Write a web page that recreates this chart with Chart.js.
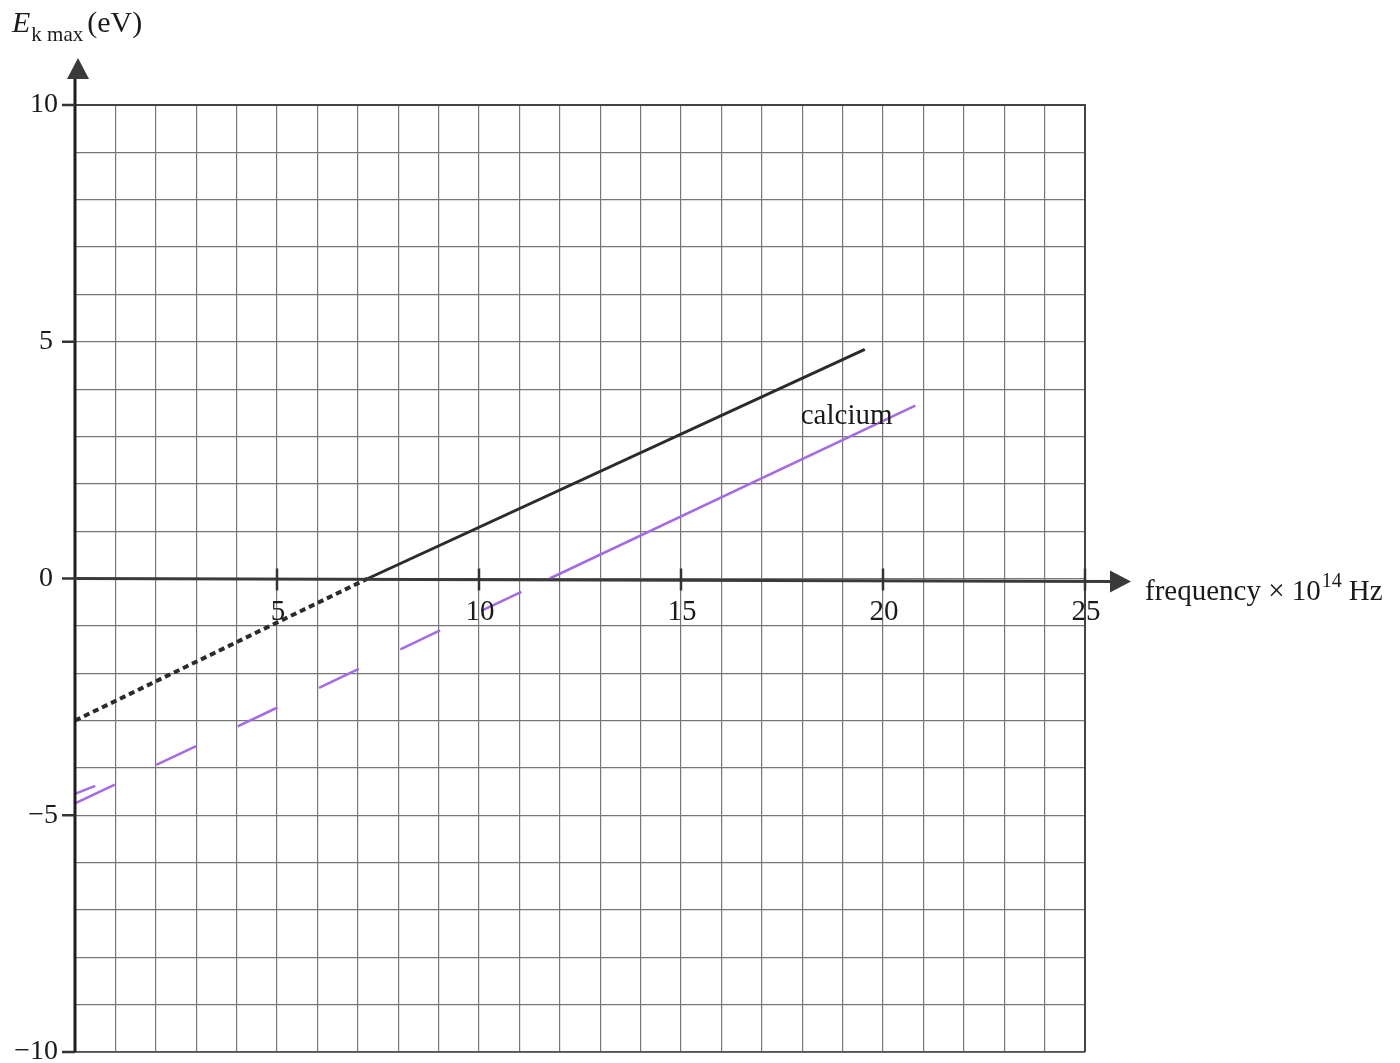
<!DOCTYPE html>
<html>
<head>
<meta charset="utf-8">
<script src="https://cdn.jsdelivr.net/npm/chart.js@4/dist/chart.umd.min.js"></script>
<style>
  html, body { margin: 0; padding: 0; background: #ffffff; }
  #wrap { width: 1400px; height: 1063px; }
</style>
</head>
<body>
<div id="wrap"><canvas id="c" width="1400" height="1063"></canvas></div>
<script>
// Axis ranges and labelled ticks
const xRange = [0, 25];
const yRange = [-10, 10];
const xTickValues = [5, 10, 15, 20, 25];
const xTickLabels = ['5', '10', '15', '20', '25'];
const yTickValues = [10, 5, 0, -5, -10];
const yTickLabels = ['10', '5', '0', '\u22125', '\u221210'];

// First metal: measured part (solid) and extrapolation back to the intercept (dotted)
const metalASolid = [{ x: 7.25, y: 0 }, { x: 19.55, y: 4.84 }];
const metalAExtrap = [{ x: 0, y: -3.0 }, { x: 7.25, y: 0 }];

// Calcium: measured part (solid) and extrapolation (dashed), plus a stray pen stroke near the origin
const calciumSolid = [{ x: 11.75, y: 0 }, { x: 20.8, y: 3.65 }];
const calciumExtrap = [{ x: 0, y: -4.75 }, { x: 11.75, y: 0 }];
const calciumStroke = [{ x: 0, y: -4.55 }, { x: 0.5, y: -4.38 }];

const calciumLabel = { text: 'calcium', x: 19.1, y: 3.42 };

const INK = '#2b2b2b';
const PURPLE = '#a56be3';
const SERIF = '"Liberation Serif", "DejaVu Serif", serif';

const annotate = {
  id: 'annotate',
  afterDraw(chart) {
    const { ctx, chartArea: a, scales: { x, y } } = chart;
    const x0 = x.getPixelForValue(0);
    const y0 = y.getPixelForValue(0);
    ctx.save();

    // frame: top and right borders
    ctx.strokeStyle = '#444';
    ctx.lineWidth = 2;
    ctx.beginPath();
    ctx.moveTo(a.left, a.top);
    ctx.lineTo(a.right, a.top);
    ctx.lineTo(a.right, a.bottom);
    ctx.stroke();
    ctx.lineWidth = 1.5;
    ctx.beginPath();
    ctx.moveTo(a.left, a.bottom);
    ctx.lineTo(a.right, a.bottom);
    ctx.stroke();

    // vertical axis with arrow
    ctx.strokeStyle = '#1e1e1e';
    ctx.fillStyle = '#3a3a3a';
    ctx.lineWidth = 3;
    ctx.beginPath();
    ctx.moveTo(x0, a.bottom);
    ctx.lineTo(x0, 76);
    ctx.stroke();
    ctx.beginPath();
    ctx.moveTo(x0 + 3, 58);
    ctx.lineTo(x0 - 8, 79);
    ctx.lineTo(x0 + 14, 79);
    ctx.closePath();
    ctx.fill();

    // horizontal axis at zero with arrow
    ctx.strokeStyle = '#3a3a3a';
    ctx.lineWidth = 3;
    ctx.beginPath();
    ctx.moveTo(x0, y0);
    ctx.lineTo(1112, y0 + 3);
    ctx.stroke();
    ctx.beginPath();
    ctx.moveTo(1110, y0 - 8);
    ctx.lineTo(1131, y0 + 3);
    ctx.lineTo(1110, y0 + 14);
    ctx.closePath();
    ctx.fill();

    // y ticks and labels
    ctx.font = '28px ' + SERIF;
    ctx.fillStyle = '#1a1a1a';
    ctx.textAlign = 'right';
    ctx.textBaseline = 'middle';
    ctx.strokeStyle = '#333';
    ctx.lineWidth = 2.5;
    yTickValues.forEach((v, i) => {
      const py = y.getPixelForValue(v);
      ctx.beginPath();
      ctx.moveTo(x0 - 13, py);
      ctx.lineTo(x0, py);
      ctx.stroke();
      ctx.fillText(yTickLabels[i], v === 0 || v === 5 ? x0 - 22 : x0 - 17, py);
    });

    // x ticks and labels
    ctx.font = '29px ' + SERIF;
    ctx.textAlign = 'center';
    ctx.textBaseline = 'top';
    xTickValues.forEach((v, i) => {
      const px = x.getPixelForValue(v);
      ctx.beginPath();
      ctx.moveTo(px, y0 - 10);
      ctx.lineTo(px, y0 + 12);
      ctx.stroke();
      ctx.fillText(xTickLabels[i], px + 1, y0 + 19);
    });

    // y-axis title: E_k max (eV)
    ctx.textAlign = 'left';
    ctx.textBaseline = 'alphabetic';
    ctx.font = 'italic 30px ' + SERIF;
    ctx.fillText('E', 12, 32);
    let w = ctx.measureText('E').width;
    ctx.font = '21px ' + SERIF;
    ctx.fillText('k max', 12 + w + 1, 41);
    const w2 = ctx.measureText('k max').width;
    ctx.font = '30px ' + SERIF;
    ctx.fillText('(eV)', 12 + w + w2 + 5, 32);

    // x-axis title: frequency × 10^14 Hz
    ctx.font = '29px ' + SERIF;
    const t1 = 'frequency \u00d7 10';
    ctx.fillText(t1, 1145, 600);
    let tx = 1145 + ctx.measureText(t1).width;
    ctx.font = '20px ' + SERIF;
    ctx.fillText('14', tx + 1, 587);
    tx += ctx.measureText('14').width + 8;
    ctx.font = '29px ' + SERIF;
    ctx.fillText('Hz', tx, 600);

    // series label
    ctx.font = '29px ' + SERIF;
    ctx.textAlign = 'center';
    ctx.textBaseline = 'middle';
    ctx.fillText(calciumLabel.text, x.getPixelForValue(calciumLabel.x), y.getPixelForValue(calciumLabel.y));

    ctx.restore();
  }
};

const line = (data, color, width, dash) => ({
  data,
  showLine: true,
  borderColor: color,
  borderWidth: width,
  borderDash: dash || [],
  pointRadius: 0,
  fill: false,
  borderCapStyle: 'butt'
});

new Chart(document.getElementById('c'), {
  type: 'scatter',
  data: {
    datasets: [
      line(metalASolid, INK, 3),
      line(metalAExtrap, INK, 4, [6, 4]),
      line(calciumSolid, PURPLE, 2.5),
      line(calciumExtrap, PURPLE, 2.5, [44, 46]),
      line(calciumStroke, PURPLE, 2.5)
    ]
  },
  options: {
    responsive: false,
    animation: false,
    layout: { padding: { left: 75, right: 315, top: 105, bottom: 11 } },
    plugins: { legend: { display: false }, tooltip: { enabled: false } },
    scales: {
      x: {
        type: 'linear',
        min: xRange[0],
        max: xRange[1],
        ticks: { display: false, stepSize: 1 },
        grid: { color: '#777', lineWidth: 1.2, drawTicks: false },
        border: { display: false }
      },
      y: {
        type: 'linear',
        min: yRange[0],
        max: yRange[1],
        ticks: { display: false, stepSize: 1 },
        grid: { color: '#777', lineWidth: 1.2, drawTicks: false },
        border: { display: false }
      }
    }
  },
  plugins: [annotate]
});
</script>
</body>
</html>
